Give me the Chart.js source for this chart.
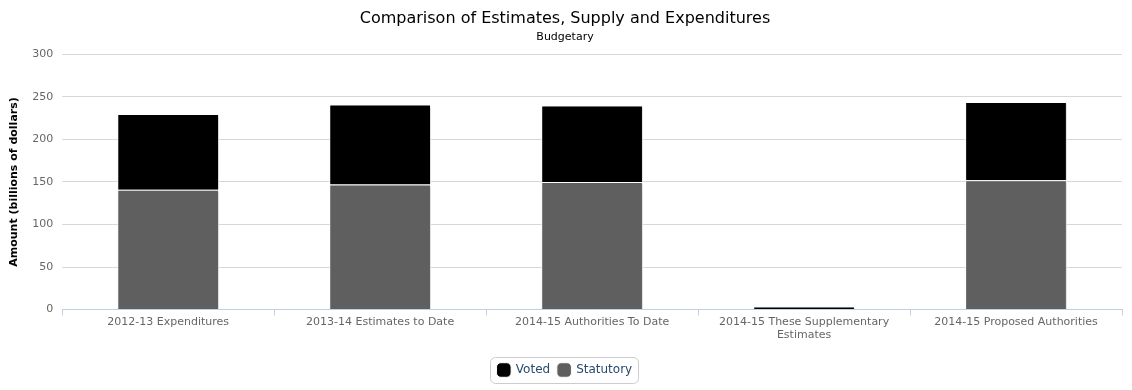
<!DOCTYPE html>
<html>
<head>
<meta charset="utf-8">
<script src="https://cdn.jsdelivr.net/npm/chart.js@4"></script>
<style>
  html, body { margin: 0; padding: 0; background: #fff; }
  #wrap { width: 1132px; height: 390px; }
</style>
</head>
<body>
<div id="wrap"><canvas class="chart"></canvas></div>
<script>
const categories = [
    '2012-13 Expenditures',
    '2013-14 Estimates to Date',
    '2014-15 Authorities To Date',
    ['2014-15 These Supplementary', 'Estimates'],
    '2014-15 Proposed Authorities'
]
const statutory = [141, 147, 150, 0.8, 152]
const voted = [89, 94, 90, 2.8, 92]
const yTicks = [0, 50, 100, 150, 200, 250, 300]

const FONT = 'DejaVu Sans'

// draws the rounded border round the legend, like the original
const legendBorder = {
    id: 'legendBorder',
    afterDraw(chart) {
        const lg = chart.legend
        if (!lg || !lg.legendHitBoxes.length) return
        const boxes = lg.legendHitBoxes
        const x0 = boxes[0].left - 8
        const last = boxes[boxes.length - 1]
        const x1 = last.left + last.width + 6
        const y0 = boxes[0].top - 7
        const y1 = boxes[0].top + boxes[0].height + 7
        const ctx = chart.ctx
        ctx.save()
        ctx.strokeStyle = '#cccccc'
        ctx.lineWidth = 1
        ctx.beginPath()
        ctx.roundRect(Math.round(x0) + 0.5, Math.round(y0) + 0.5, Math.round(x1 - x0), Math.round(y1 - y0), 5)
        ctx.stroke()
        ctx.restore()
    }
}

// soft shadow under the bars
const barShadow = {
    id: 'barShadow',
    beforeDatasetsDraw(chart) {
        const ctx = chart.ctx
        ctx.save()
        ctx.shadowColor = 'rgba(0,0,0,0.18)'
        ctx.shadowOffsetX = 1
        ctx.shadowOffsetY = 1
        ctx.shadowBlur = 2
    },
    afterDatasetsDraw(chart) {
        chart.ctx.restore()
    }
}

renderChart()

function renderChart() {
    const c = document.getElementsByClassName('chart')[0]
    const ctx = c.getContext('2d')
    new Chart(ctx, {
        type: 'bar',
        data: {
            labels: categories,
            datasets: [{
                label: 'Statutory',
                data: statutory,
                backgroundColor: '#5f5f5f',
                borderColor: '#ffffff',
                borderWidth: 1
            }, {
                label: 'Voted',
                data: voted,
                backgroundColor: '#000000',
                borderColor: '#ffffff',
                borderWidth: 1
            }]
        },
        plugins: [legendBorder, barShadow],
        options: {
            responsive: true,
            maintainAspectRatio: false,
            animation: false,
            datasets: {
                bar: { categoryPercentage: 1, barPercentage: 0.48 }
            },
            layout: { padding: { left: 8, right: 10, top: 6, bottom: 4 } },
            scales: {
                x: {
                    stacked: true,
                    grid: { drawOnChartArea: false, offset: true, tickLength: 6, color: '#C0D0E0' },
                    border: { color: '#C0D0E0' },
                    ticks: {
                        color: '#666',
                        font: { family: FONT, size: 11 },
                        padding: 0,
                        maxRotation: 0,
                        autoSkip: false
                    }
                },
                y: {
                    stacked: true,
                    min: 0,
                    max: 300,
                    afterBuildTicks: axis => { axis.ticks = yTicks.map(v => ({ value: v })) },
                    grid: { color: '#D8D8D8', drawTicks: false },
                    border: { display: false },
                    ticks: {
                        color: '#666',
                        font: { family: FONT, size: 11 },
                        padding: 9
                    },
                    title: {
                        display: true,
                        text: 'Amount (billions of dollars)',
                        color: '#000',
                        font: { family: FONT, size: 11, weight: 'bold' },
                        padding: { top: 0, bottom: 2 }
                    }
                }
            },
            plugins: {
                title: {
                    display: true,
                    text: 'Comparison of Estimates, Supply and Expenditures',
                    color: '#000',
                    font: { family: FONT, size: 16, weight: 'normal' },
                    padding: { top: 3, bottom: 2 }
                },
                subtitle: {
                    display: true,
                    text: 'Budgetary',
                    color: '#000',
                    font: { family: FONT, size: 11, weight: 'normal' },
                    padding: { top: 0, bottom: 11 }
                },
                legend: {
                    position: 'bottom',
                    reverse: true,
                    // empty title only reserves space above the items
                    title: {
                        display: true,
                        text: '',
                        padding: 0,
                        font: { size: 10, lineHeight: 1.4 }
                    },
                    labels: {
                        boxWidth: 13,
                        boxHeight: 13,
                        usePointStyle: true,
                        pointStyle: 'rectRounded',
                        color: '#274b6d',
                        padding: 8,
                        font: { family: FONT, size: 12 }
                    }
                },
                tooltip: { enabled: false }
            }
        }
    })
}
</script>
</body>
</html>
